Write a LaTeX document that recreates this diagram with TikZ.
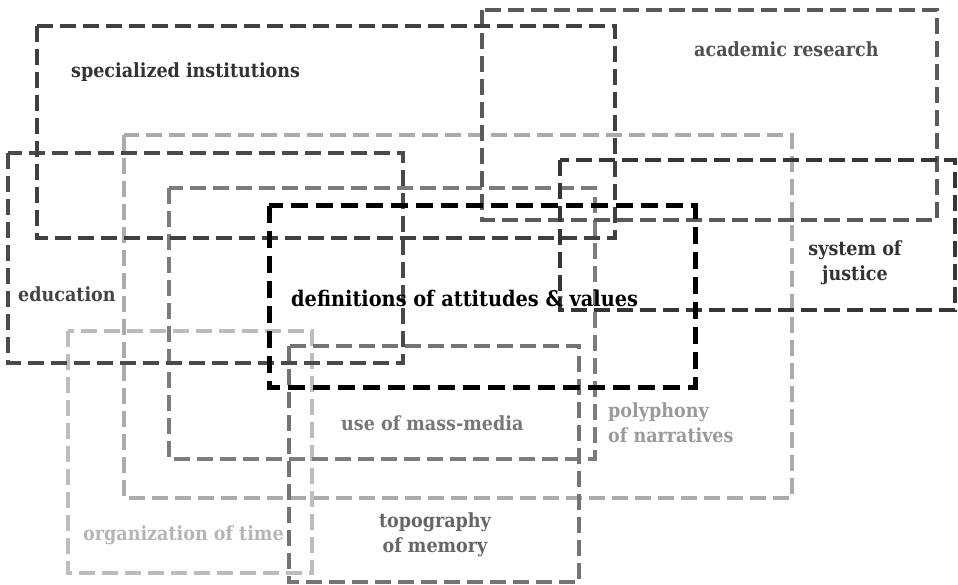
\documentclass[tikz,border=0pt]{standalone}
\usepackage{fontspec}
\setmainfont{DejaVu Serif Condensed}
\definecolor{cSpec}{HTML}{404040}
\definecolor{cAcad}{HTML}{5A5A5A}
\definecolor{cEdu}{HTML}{4A4A4A}
\definecolor{cJust}{HTML}{363636}
\definecolor{cPoly}{HTML}{ABABAB}
\definecolor{cMass}{HTML}{7C7C7C}
\definecolor{cTopo}{HTML}{747474}
\definecolor{cTime}{HTML}{BDBDBD}
\definecolor{tSpec}{HTML}{333333}
\definecolor{tAcad}{HTML}{505050}
\definecolor{tEdu}{HTML}{444444}
\definecolor{tJust}{HTML}{333333}
\definecolor{tPoly}{HTML}{9A9A9A}
\definecolor{tMass}{HTML}{777777}
\definecolor{tTopo}{HTML}{666666}
\definecolor{tTime}{HTML}{B5B5B5}
\begin{document}
\begin{tikzpicture}[x=1pt,y=-1pt,
  frame/.style={dash pattern=on 16pt off 7pt, line width=4pt},
  thickframe/.style={dash pattern=on 17pt off 8pt, line width=5pt},
  lbl/.style={font=\bfseries\fontsize{19.5}{25}\selectfont, inner sep=0pt, align=center},
  biglbl/.style={font=\bfseries\fontsize{21.5}{25}\selectfont, inner sep=0pt}]
\useasboundingbox (0,0) rectangle (958,585);
% frames
\draw[frame, cPoly] (124,135) rectangle (792,498);
\draw[frame, cTime] (68,331) rectangle (312,573);
\draw[frame, cMass] (169,188) rectangle (595,459);
\draw[frame, cTopo] (289,346) rectangle (579,582);
\draw[frame, cAcad] (482,10) rectangle (937,220);
\draw[frame, cEdu] (8,153) rectangle (403,363);
\draw[frame, cSpec] (37,26) rectangle (615,238);
\draw[frame, cJust] (560,160) rectangle (955,310);
\draw[thickframe, black] (269,206) rectangle (695,387);
% labels
\node[lbl, tSpec, anchor=west] (spec) at (71,72) {specialized institutions};
\node[lbl, tAcad, anchor=west] (acad) at (694,49) {academic research};
\node[lbl, tEdu, anchor=west] (edu) at (18,294) {education};
\node[biglbl, black, anchor=west] (defs) at (291,298) {definitions of attitudes \& values};
\node[lbl, tJust] (just) at (855,263) {system of\\justice};
\node[lbl, tMass, anchor=west] (mass) at (341,423) {use of mass-media};
\node[lbl, tPoly, anchor=west, align=left] (poly) at (608,423) {polyphony\\of narratives};
\node[lbl, tTime, anchor=west] (time) at (83,535) {organization of time};
\node[lbl, tTopo] (topo) at (435,535) {topography\\of memory};
\end{tikzpicture}
\end{document}
